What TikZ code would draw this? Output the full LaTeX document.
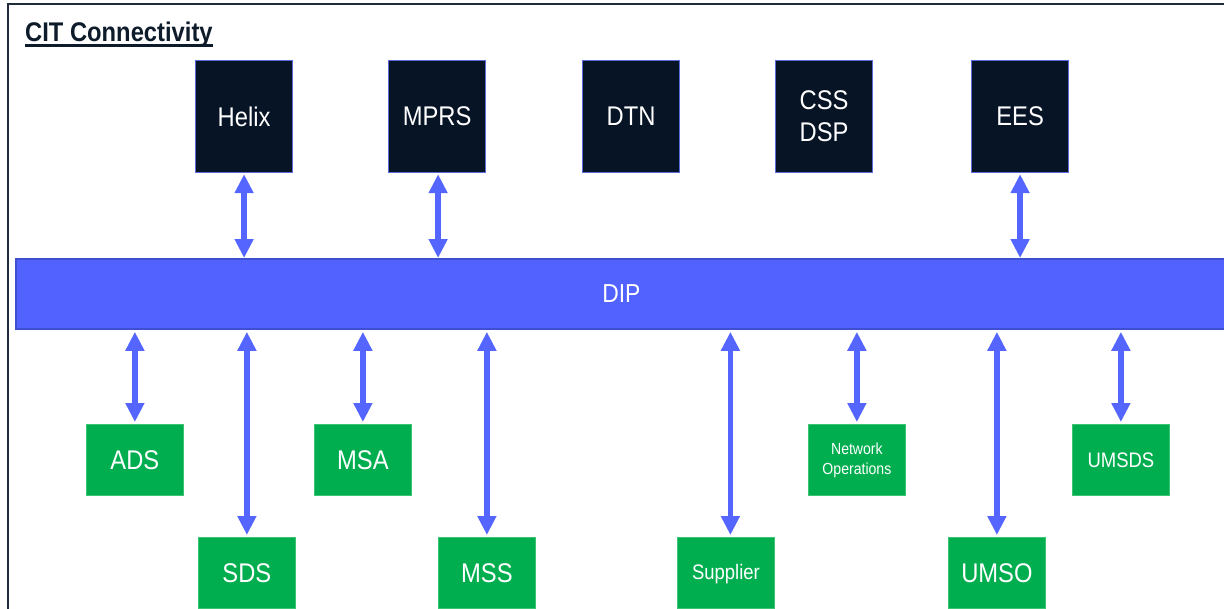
\documentclass[tikz,border=0pt]{standalone}
\usepackage{fontspec}
\setmainfont[FakeStretch=0.88]{Liberation Sans}
\usetikzlibrary{arrows.meta}
\definecolor{navy}{HTML}{061426}
\definecolor{navyedge}{HTML}{5A6AD8}
\definecolor{dipblue}{HTML}{5262FE}
\definecolor{dipedge}{HTML}{3F4FD0}
\definecolor{arrowblue}{HTML}{5565FF}
\definecolor{boxgreen}{HTML}{00AE4F}
\definecolor{greenedge}{HTML}{3CC475}
\definecolor{titlecol}{HTML}{0D1B2A}
\definecolor{framecol}{HTML}{1F2B3A}
\tikzset{
  topbox/.style={draw=navyedge, line width=1.2pt, fill=navy, text=white,
    minimum width=97pt, minimum height=112pt, inner sep=0pt,
    font=\fontsize{27}{32}\selectfont, align=center, anchor=north west},
  greenbox/.style={draw=greenedge, line width=0.8pt, fill=boxgreen, text=white,
    minimum width=97pt, minimum height=71pt, inner sep=0pt,
    font=\fontsize{27}{32}\selectfont, align=center, anchor=north west},
  smalltext/.style={font=\fontsize{21}{25}\selectfont},
  tinytext/.style={font=\fontsize{16}{20}\selectfont},
  biarrow/.style={draw=arrowblue, line width=5.5pt,
    {Triangle[width=18pt,length=19pt]}-{Triangle[width=18pt,length=19pt]}},
}
\begin{document}
\begin{tikzpicture}[x=1pt,y=-1pt]
\useasboundingbox (0,0) rectangle (1224,608);
% outer frame
\draw[framecol, line width=2pt] (8,4) rectangle (1240,630);
% title
\node[anchor=base west, inner sep=0pt, text=titlecol,
  font=\fontsize{27}{32}\selectfont\bfseries] (title) at (25,41) {CIT Connectivity};
\draw[titlecol, line width=2.2pt] ([yshift=-4.5pt]title.base west) -- ([yshift=-4.5pt]title.base east);
% DIP bar
\node[draw=dipedge, line width=1.8pt, fill=dipblue, text=white, anchor=north west,
  minimum width=1211pt, minimum height=70pt, inner sep=0pt,
  font=\fontsize{26}{30}\selectfont] (dip) at (15,258) {DIP};
% top boxes
\node[topbox] (helix) at (195,60) {Helix};
\node[topbox] (mprs) at (388,60) {MPRS};
\node[topbox] (dtn) at (582,60) {DTN};
\node[topbox] (cssdsp) at (775,60) {CSS\\DSP};
\node[topbox] (ees) at (971,60) {EES};
% bottom boxes
\node[greenbox] (ads) at (86,424) {ADS};
\node[greenbox] (msa) at (314,424) {MSA};
\node[greenbox, tinytext, text depth=2pt] (netops) at (808,424) {Network\\Operations};
\node[greenbox, smalltext] (umsds) at (1072,424) {UMSDS};
\node[greenbox] (sds) at (198,537) {SDS};
\node[greenbox] (mss) at (438,537) {MSS};
\node[greenbox, smalltext, text depth=2pt] (supplier) at (677,537) {Supplier};
\node[greenbox] (umso) at (948,537) {UMSO};
% top arrows
\draw[biarrow, shorten <=1pt] (helix.south) -- (helix.south |- dip.north);
\draw[biarrow, shorten <=1pt] ([xshift=1pt]mprs.south) -- ([xshift=1pt]mprs.south |- dip.north);
\draw[biarrow, shorten <=1pt] (ees.south) -- (ees.south |- dip.north);
% bottom arrows
\foreach \n in {ads,msa,netops,umsds,sds,mss,umso}{
  \draw[biarrow, shorten <=2pt, shorten >=2pt] (\n.north |- dip.south) -- (\n.north);
}
\draw[biarrow, shorten <=2pt, shorten >=2pt] ([xshift=4.5pt]supplier.north |- dip.south) -- ([xshift=4.5pt]supplier.north);
\end{tikzpicture}
\end{document}
